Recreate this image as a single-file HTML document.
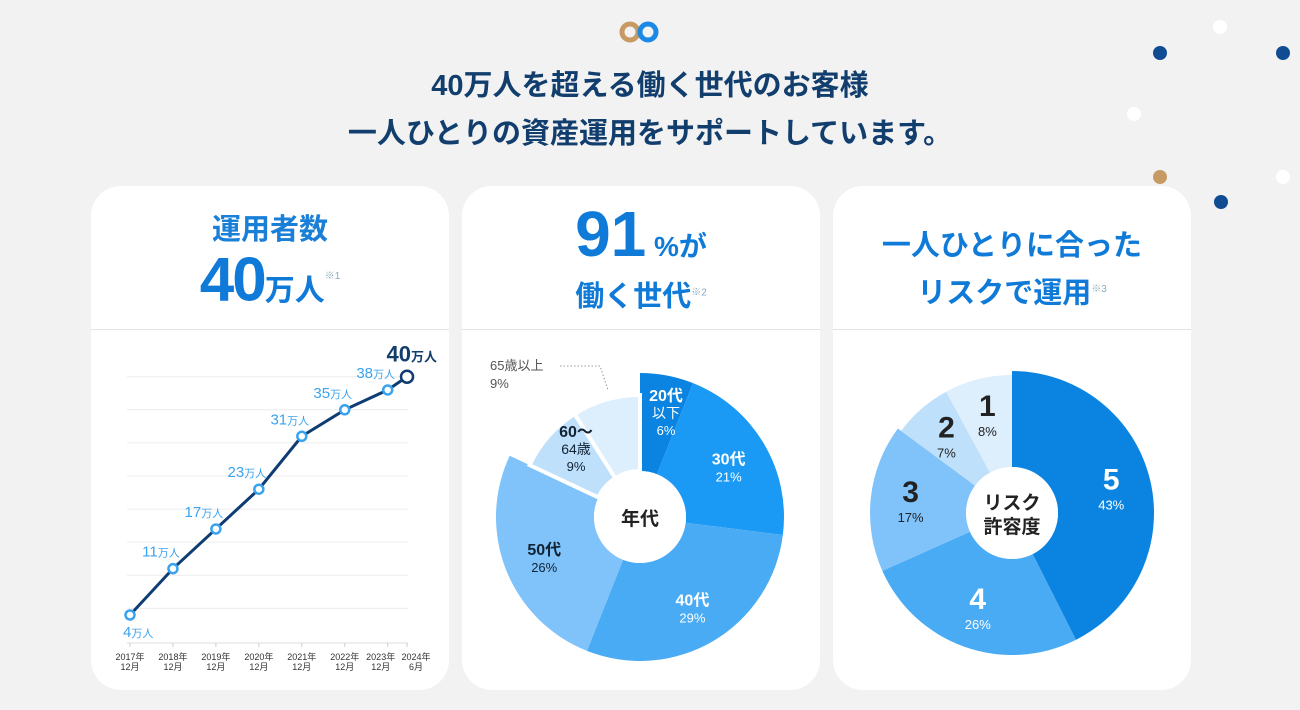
<!DOCTYPE html>
<html><head><meta charset="utf-8">
<style>
body{margin:0;width:1300px;height:710px;background:#f2f2f2;font-family:"Liberation Sans","Noto Sans CJK JP",sans-serif;overflow:hidden;position:relative}
.card{position:absolute;top:186px;width:358px;height:504px;background:#fff;border-radius:30px}
.div{position:absolute;left:0;right:0;top:143px;height:1px;background:#e3e3e3}
.t{position:absolute;font-weight:bold;color:#0f7ad8;text-align:center;white-space:nowrap}
.dot{position:absolute;width:14px;height:14px;border-radius:50%}
</style></head><body>
<svg style="position:absolute;left:618px;top:20px" width="46" height="24"><circle cx="12" cy="12" r="8" fill="none" stroke="#c89a63" stroke-width="5"/><circle cx="30" cy="12" r="8" fill="none" stroke="#1a8ae6" stroke-width="5"/></svg>
<div style="position:absolute;left:0;width:1300px;top:62px;text-align:center;font-size:29px;font-weight:bold;color:#123e6e;line-height:48px">40万人を超える働く世代のお客様<br>一人ひとりの資産運用をサポートしています。</div>
<div class="dot" style="left:1213px;top:20px;background:#fff"></div>
<div class="dot" style="left:1153px;top:46px;background:#0f4c92"></div>
<div class="dot" style="left:1276px;top:46px;background:#0f4c92"></div>
<div class="dot" style="left:1127px;top:107px;background:#fff"></div>
<div class="dot" style="left:1153px;top:170px;background:#c89a63"></div>
<div class="dot" style="left:1276px;top:170px;background:#fff"></div>
<div class="dot" style="left:1214px;top:195px;background:#0f4c92"></div>

<div class="card" style="left:91px">
 <div class="t" style="left:0;right:0;top:20px;font-size:29px;color:#1a7fd6">運用者数</div>
 <div class="t" style="left:0;right:0;top:56px;font-size:62px;line-height:70px"><span style="letter-spacing:-2px">40</span><span style="font-size:30px">万人</span><sup style="font-size:10px;color:#8ab;font-weight:normal">※1</sup></div>
 <div class="div"></div>
</div>
<div class="card" style="left:462px">
 <div class="t" style="left:0;right:0;top:12px;font-size:64px;line-height:72px">91<span style="font-size:28px"> %が</span></div>
 <div class="t" style="left:0;right:0;top:87px;font-size:29px">働く世代<sup style="font-size:10px;color:#8ab;font-weight:normal">※2</sup></div>
 <div class="div"></div>
</div>
<div class="card" style="left:833px">
 <div class="t" style="left:0;right:0;top:38px;font-size:29px;line-height:44px">一人ひとりに合った<br>リスクで運用<sup style="font-size:10px;color:#8ab;font-weight:normal">※3</sup></div>
 <div class="div"></div>
</div>

<svg id="svg" width="1300" height="710" style="position:absolute;left:0;top:0" font-family="Liberation Sans, Noto Sans CJK JP, sans-serif"></svg>
<script>
const years=["2017年|12月","2018年|12月","2019年|12月","2020年|12月","2021年|12月","2022年|12月","2023年|12月","2024年|6月"];
const users=[4,11,17,23,31,35,38,40];
const gridVals=[5,10,15,20,25,30,35,40];
const ageLabels=["20代|以下","30代","40代","50代","60〜|64歳","65歳以上"];
const ageValues=[6,21,29,26,9,9];
const riskLabels=["5","4","3","2","1"];
const riskValues=[43,26,17,7,8];

const NS="http://www.w3.org/2000/svg",svg=document.getElementById('svg');
function mk(t,a,p){const e=document.createElementNS(NS,t);for(const k in a)e.setAttribute(k,a[k]);(p||svg).appendChild(e);return e;}
const xs=[130,387.7];
const xAt=i=>xs[0]+(xs[1]-xs[0])*(i<7?i:6.45)/6;
const yAt=v=>615-(v-4)*(615-376.7)/36;
gridVals.forEach(v=>{const l=mk('line',{x1:127,x2:408,y1:yAt(v),y2:yAt(v),stroke:'#ececec'});

});
mk('line',{x1:127,x2:408,y1:643,y2:643,stroke:'#ddd'});
years.forEach((y,i)=>{const x=xAt(i);mk('line',{x1:x,x2:x,y1:643,y2:647,stroke:'#ccc'});
const lx=i==6?x-7:(i==7?x+9:x);
const p=y.split('|');const t=mk('text',{x:lx,y:660,'font-size':9,'text-anchor':'middle',fill:'#333'});t.textContent=p[0];


const t2=mk('text',{x:lx,y:670,'font-size':9,'text-anchor':'middle',fill:'#333'});t2.textContent=p[1];});
mk('polyline',{points:users.map((v,i)=>xAt(i)+','+yAt(v)).join(' '),fill:'none',stroke:'#0f3d73','stroke-width':3});
users.forEach((v,i)=>{const last=i==users.length-1;const c=mk('circle',{cx:xAt(i),cy:yAt(v),r:last?6:4.5,fill:'#fff',stroke:last?'#0f3d73':'#3aa3ef','stroke-width':2.5});


let tx,ty,anchor='end';
if(i==0){tx=xAt(i)-7;ty=yAt(v)+22;anchor='start';}else if(last){tx=xAt(i)+30;ty=yAt(v)-15;}else{tx=xAt(i)-12;ty=yAt(v)-12;anchor='middle';}
const t=mk('text',{x:tx,y:ty,'text-anchor':anchor,'font-size':last?22:15,fill:last?'#123e6e':'#3aa3ef','font-weight':last?'bold':'normal'});
t.innerHTML=v+'<tspan font-size="'+(last?13:11)+'">万人</tspan>';

});
function arc(cx,cy,r0,r1,a0,a1){const p=(r,a)=>[cx+r*Math.sin(a),cy-r*Math.cos(a)];const L=a1-a0>Math.PI?1:0;
const [x0,y0]=p(r1,a0),[x1,y1]=p(r1,a1),[x2,y2]=p(r0,a1),[x3,y3]=p(r0,a0);
return `M${x0},${y0}A${r1},${r1} 0 ${L} 1 ${x1},${y1}L${x2},${y2}A${r0},${r0} 0 ${L} 0 ${x3},${y3}Z`;}
function donut(cx,cy,vals,labs,cols,radii,tcol,big,name,center){
const sG=mk('g',{}),cG=mk('g',{}),lG=mk('g',{});
const tot=vals.reduce((a,b)=>a+b,0);let a=0;
vals.forEach((v,i)=>{const a0=a/tot*2*Math.PI,a1=(a+v)/tot*2*Math.PI;a+=v;
const s=mk('path',{d:arc(cx,cy,46,radii[i],a0,a1),fill:cols[i],stroke:'#fff','stroke-width':name=='age'&&i>=4?4:0},sG);


if(name=='age'&&i==5){const t=mk('text',{x:490,y:370,'font-size':13,fill:'#555'},lG);t.textContent=labs[i];const t2=mk('text',{x:490,y:388,'font-size':13,fill:'#555'},lG);t2.textContent=v+'%';
mk('polyline',{points:'560,366 600,366 608,390',fill:'none',stroke:'#999','stroke-dasharray':'1.5,2'},lG);return;}
const m=(a0+a1)/2,rr=(46+radii[i])/2+8;let x=cx+rr*Math.sin(m),y=cy-rr*Math.cos(m);
if(name=='age'&&i==0){x=666;y=410;}
if(name=='age'&&i==4){x=576;y=446;}
const parts=labs[i].split('|');const g=mk('g',{},lG);


const fs=big?30:16;let yy=y-(parts.length-1)*9;
parts.forEach((p,k)=>{const t=mk('text',{x:x,y:yy,'text-anchor':'middle','font-size':k==0?fs:14,'font-weight':k==0?'bold':'normal',fill:tcol[i]},g);t.textContent=p;yy+=big?0:17;});
const t=mk('text',{x:x,y:yy+(big?20:0),'text-anchor':'middle','font-size':13,fill:tcol[i]},g);t.textContent=v+'%';});
mk('circle',{cx,cy,r:46,fill:'#fff'},cG);
center.forEach((c,k)=>{const t=mk('text',{x:cx,y:cy+8+(k-(center.length-1)/2)*24,'text-anchor':'middle','font-size':19,'font-weight':'bold',fill:'#222'},cG);t.textContent=c;});}
donut(640,517,ageValues,ageLabels,['#0a84e0','#1a9af5','#4aabf5','#7fc3fa','#bfe0fb','#ddeefc'],[144,144,144,144,122,122],['#fff','#fff','#fff','#123','#123','#555'],false,'age',['年代']);
donut(1012,513,riskValues,riskLabels,['#0a84e0','#4aabf5','#7fc3fa','#bfe0fb','#ddeefc'],[142,142,142,138,138],['#fff','#fff','#222','#222','#222'],true,'risk',['リスク','許容度']);
</script>
</body></html>
